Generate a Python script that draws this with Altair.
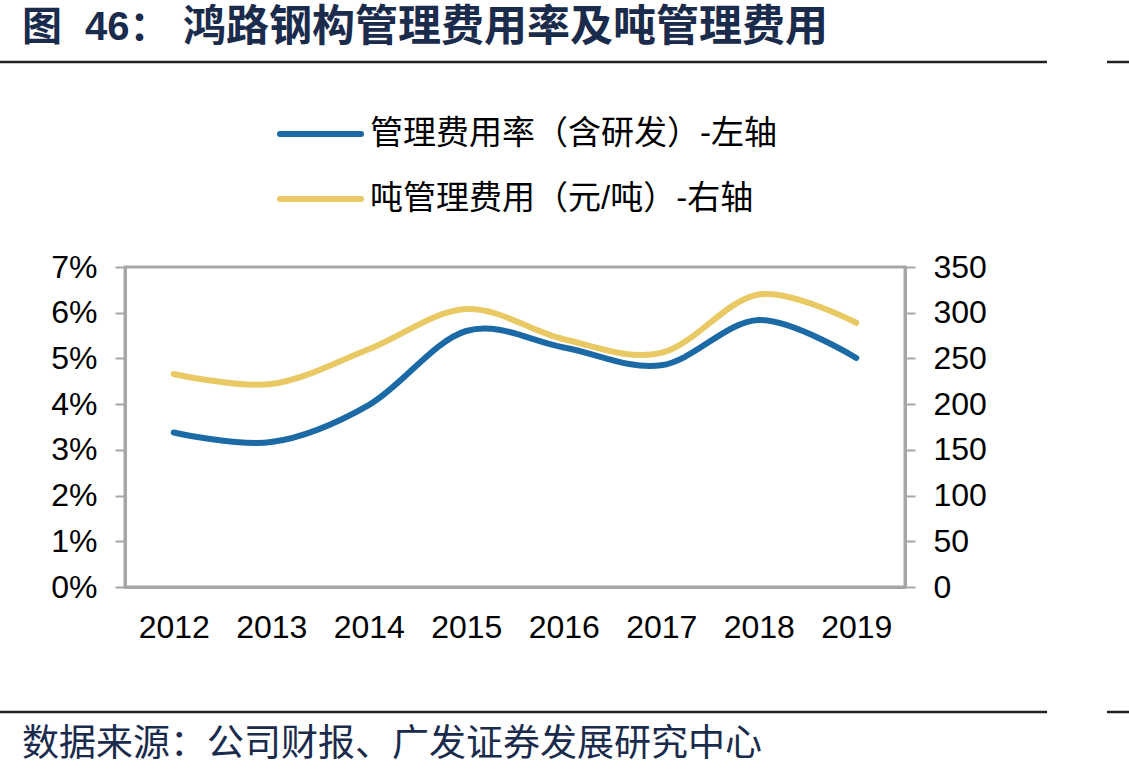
import altair as alt
import pandas as pd

# ---- data ----
years = ["2012", "2013", "2014", "2015", "2016", "2017", "2018", "2019"]
rate_pct = [3.38, 3.17, 3.98, 5.60, 5.24, 4.85, 5.84, 5.01]       # 管理费用率（含研发）, %
cost_per_ton = [233, 222, 260, 304, 271, 256, 320, 289]            # 吨管理费用, 元/吨
series_names = ["管理费用率（含研发）-左轴", "吨管理费用（元/吨）-右轴"]
series_colors = ["#1B6AA5", "#E8C964"]
left_ticks = [0, 1, 2, 3, 4, 5, 6, 7]
right_ticks = [0, 50, 100, 150, 200, 250, 300, 350]
title_parts = ["图", "46：", "鸿路钢构管理费用率及吨管理费用"]
source_text = "数据来源：公司财报、广发证券发展研究中心"

df = pd.DataFrame({"year": years, "rate": rate_pct, "cost": cost_per_ton})

# ---- layout ----
W, H = 780, 320          # plot area
L, T = 125, 267          # plot origin in page
FONT = "Liberation Sans, Noto Sans CJK SC"
NAVY = "#1A2B4C"
GRAY = "#A6A6A6"

x_enc = alt.X(
    "year:O",
    title=None,
    axis=alt.Axis(labelAngle=0, ticks=False, labelPadding=25),
)

line_rate = alt.Chart(df).mark_line(
    color=series_colors[0], strokeWidth=6, interpolate="cardinal", strokeCap="round"
).encode(
    x=x_enc,
    y=alt.Y(
        "rate:Q",
        title=None,
        scale=alt.Scale(domain=[0, 7], nice=False, zero=True),
        axis=alt.Axis(orient="left", values=left_ticks, labelExpr="datum.value + '%'"),
    ),
)

line_cost = alt.Chart(df).mark_line(
    color=series_colors[1], strokeWidth=6, interpolate="cardinal", strokeCap="round"
).encode(
    x=x_enc,
    y=alt.Y(
        "cost:Q",
        title=None,
        scale=alt.Scale(domain=[0, 350], nice=False, zero=True),
        axis=alt.Axis(orient="right", values=right_ticks),
    ),
)

one = pd.DataFrame({"k": [0]})


def hrule(x0, x1, y, color="#222222", width=2.5):
    return alt.Chart(one).mark_rule(color=color, strokeWidth=width).encode(
        x=alt.value(x0 - L), x2=alt.value(x1 - L), y=alt.value(y - T)
    )


def label(text, x, y, size, color="#000000", weight="normal"):
    return alt.Chart(pd.DataFrame({"t": [text]})).mark_text(
        align="left", baseline="middle", fontSize=size, font=FONT,
        fontWeight=weight, color=color,
    ).encode(text="t:N", x=alt.value(x - L), y=alt.value(y - T))


decor = [
    hrule(0, 1047, 62), hrule(1107, 1129, 62),
    hrule(0, 1047, 712), hrule(1107, 1129, 712),
    label(title_parts[0], 22, 28, 40, NAVY, "bold"),
    label(title_parts[1], 85, 28, 40, NAVY, "bold"),
    label(title_parts[2], 183, 28, 43, NAVY, "bold"),
    label(source_text, 22, 745, 37, NAVY),
]

legend_rows = [134, 199]
for name, color, ry in zip(series_names, series_colors, legend_rows):
    decor.append(
        alt.Chart(one).mark_rule(color=color, strokeWidth=6, strokeCap="round").encode(
            x=alt.value(280 - L), x2=alt.value(361 - L), y=alt.value(ry - T)
        )
    )
    decor.append(label(name, 370, ry, 33))

chart = alt.layer(line_rate, line_cost, *decor).resolve_scale(
    y="independent"
).properties(
    width=W,
    height=H,
    padding={"left": L, "top": T, "right": 1129 - L - W, "bottom": 779 - T - H},
    autosize=alt.AutoSizeParams(type="none"),
    background="white",
).configure_view(
    stroke=GRAY, strokeWidth=3
).configure_axis(
    grid=False,
    domainColor=GRAY, domainWidth=3,
    tickColor=GRAY, tickWidth=2, tickSize=10,
    labelFont="Liberation Sans", labelFontSize=32, labelColor="#000000",
    labelPadding=18,
)

chart.save("out.html", embed_options={"renderer": "svg", "actions": False})
